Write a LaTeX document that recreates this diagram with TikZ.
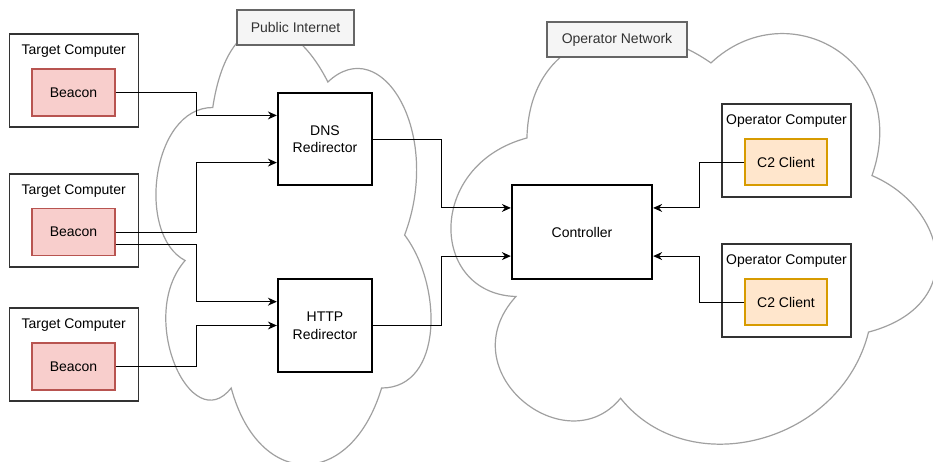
\documentclass[tikz,border=0pt]{standalone}
\usepackage{fontspec}
\setmainfont{Liberation Sans}
\usetikzlibrary{arrows.meta,calc}
\definecolor{beaconfill}{HTML}{F8CECC}
\definecolor{beacondraw}{HTML}{B85450}
\definecolor{clientfill}{HTML}{FFE6CC}
\definecolor{clientdraw}{HTML}{D79B00}
\definecolor{tagfill}{HTML}{F5F5F5}
\definecolor{tagdraw}{HTML}{666666}
\definecolor{tagtext}{HTML}{333333}
\definecolor{boxline}{HTML}{333333}
\definecolor{cloudline}{HTML}{A0A0A0}
\begin{document}
\begin{tikzpicture}[x=1pt,y=-1pt,
  font=\fontsize{14}{17.5}\selectfont,
  host/.style={draw=boxline, fill=white, line width=1.2pt, minimum width=129pt, minimum height=93pt, inner sep=0pt},
  hosttitle/.style={inner sep=0pt},
  agent/.style={draw=beacondraw, fill=beaconfill, line width=1.2pt, minimum width=83pt, minimum height=47pt, inner sep=0pt},
  client/.style={draw=clientdraw, fill=clientfill, line width=1.2pt, minimum width=82pt, minimum height=46pt, inner sep=0pt},
  relay/.style={draw=black, fill=white, line width=2.3pt, minimum width=94pt, minimum height=92pt, align=center, inner sep=0pt},
  tag/.style={draw=tagdraw, fill=tagfill, text=tagtext, line width=1.2pt, minimum height=35pt, inner sep=0pt},
  cloudbody/.style={draw=cloudline, fill=white, line width=1.2pt},
  link/.style={draw=black, line width=1pt, -{Stealth[length=9pt,width=8pt,inset=3pt]}},
]
\useasboundingbox (0,0) rectangle (933,461);

% network clouds
\begin{scope}[shift={(136,-20)}, x={(307pt,0pt)}, y={(0pt,-510pt)}]
  \path[cloudbody] (0.25,0.25) .. controls (0.05,0.25) and (0,0.5) .. (0.16,0.55)
    .. controls (0,0.66) and (0.18,0.9) .. (0.31,0.8)
    .. controls (0.4,1) and (0.7,1) .. (0.8,0.8)
    .. controls (1,0.8) and (1,0.6) .. (0.875,0.5)
    .. controls (1,0.3) and (0.8,0.1) .. (0.625,0.2)
    .. controls (0.5,0.05) and (0.3,0.05) .. (0.25,0.25) -- cycle;
\end{scope}
\begin{scope}[shift={(371.7,49.7)}, x={(506pt,135pt)}, y={(115pt,-488pt)}]
  \path[cloudbody] (0.25,0.25) .. controls (0.05,0.25) and (0,0.5) .. (0.16,0.55)
    .. controls (0,0.66) and (0.18,0.9) .. (0.31,0.8)
    .. controls (0.4,1) and (0.7,1) .. (0.8,0.8)
    .. controls (1,0.8) and (1,0.6) .. (0.875,0.5)
    .. controls (1,0.3) and (0.8,0.1) .. (0.625,0.2)
    .. controls (0.5,0.05) and (0.3,0.05) .. (0.25,0.25) -- cycle;
\end{scope}

% network labels
\node[tag, minimum width=117pt] (pub) at (295.5,27.5) {Public Internet};
\node[tag, minimum width=140pt] (opnet) at (617,39.5) {Operator Network};

% target computers
\node[host] (t1) at (73.7,80.5) {};
\node[hosttitle] (t1t) at (73.7,51) {Target Computer};
\node[agent] (b1) at (73.5,92.5) {Beacon};
\node[host] (t2) at (73.7,220.5) {};
\node[hosttitle] (t2t) at (73.7,191) {Target Computer};
\node[agent] (b2) at (73.5,232) {Beacon};
\node[host] (t3) at (73.7,354.5) {};
\node[hosttitle] (t3t) at (73.7,325) {Target Computer};
\node[agent] (b3) at (73.5,366.5) {Beacon};

% redirectors and controller
\node[relay] (dns) at (325,139) {DNS\\Redirector};
\node[relay, minimum height=93pt] (http) at (325,325.5) {HTTP\\Redirector};
\node[relay, minimum width=140pt, minimum height=94pt] (ctl) at (582,232) {Controller};

% operator computers
\node[host] (o1) at (786.5,150.5) {};
\node[hosttitle] (o1t) at (786.5,121) {Operator Computer};
\node[client] (c1) at (786,162) {C2 Client};
\node[host] (o2) at (786.5,290.5) {};
\node[hosttitle] (o2t) at (786.5,261) {Operator Computer};
\node[client] (c2) at (786,302) {C2 Client};

% routing columns
\coordinate (busL) at (196,0);
\coordinate (busR) at (441.7,0);
\coordinate (busC) at (699,0);

% connectors
\draw[link] (b1.east) -- (b1.east -| busL) |- ($(dns.north west)!.25!(dns.south west)$);
\draw[link] (b2.east) -- (b2.east -| busL) |- ($(dns.north west)!.75!(dns.south west)$);
\coordinate (b2low) at ($(b2.north east)!.75!(b2.south east)$);
\draw[link] (b2low) -- (b2low -| busL) |- ($(http.north west)!.25!(http.south west)$);
\draw[link] (b3.east) -- (b3.east -| busL) |- (http.west);
\draw[link] (dns.east) -- (dns.east -| busR) |- ($(ctl.north west)!.25!(ctl.south west)$);
\draw[link] (http.east) -- (http.east -| busR) |- ($(ctl.north west)!.75!(ctl.south west)$);
\draw[link] (c1.west) -- (c1.west -| busC) |- ($(ctl.north east)!.25!(ctl.south east)$);
\draw[link] (c2.west) -- (c2.west -| busC) |- ($(ctl.north east)!.75!(ctl.south east)$);
\end{tikzpicture}
\end{document}
